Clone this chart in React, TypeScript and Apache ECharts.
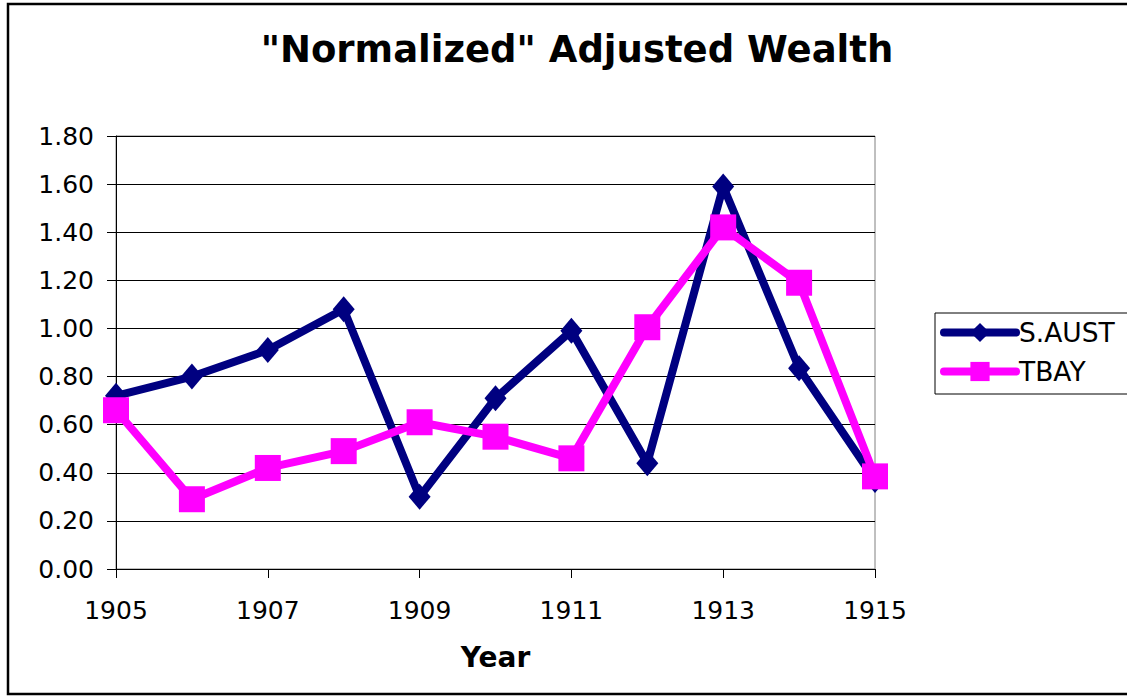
import React, { useEffect, useRef } from "react";
import * as echarts from "echarts";

const years = ["1905", "1906", "1907", "1908", "1909", "1910", "1911", "1912", "1913", "1914", "1915"];
const sAust = [0.72, 0.80, 0.91, 1.08, 0.30, 0.71, 0.99, 0.44, 1.59, 0.835, 0.37];
const tBay = [0.66, 0.29, 0.42, 0.49, 0.61, 0.55, 0.46, 1.005, 1.42, 1.19, 0.385];
const yTicks = { min: 0, max: 1.8, interval: 0.2 };

const FONT = "DejaVu Sans, Verdana, sans-serif";

export default function App() {
  const ref = useRef<HTMLDivElement>(null);
  useEffect(() => {
    document.body.style.margin = "0";
    const chart = echarts.init(ref.current!, null, { renderer: "svg" });
    chart.setOption({
      animation: false,
      backgroundColor: "#ffffff",
      textStyle: { fontFamily: FONT },
      title: {
        text: '"Normalized" Adjusted Wealth',
        left: 572,
        textAlign: "center",
        top: 26,
        textStyle: { fontFamily: FONT, fontSize: 37, fontWeight: "bold", color: "#000" },
      },
      graphic: [
        {
          type: "rect",
          shape: { x: 8, y: 4, width: 1130, height: 690 },
          style: { fill: "none", stroke: "#000", lineWidth: 2.5 },
          silent: true,
        },
      ],
      legend: {
        orient: "vertical",
        left: 935,
        top: 313,
        padding: [6, 13, 9, 5],
        itemGap: 12,
        itemWidth: 72,
        itemHeight: 24,
        borderColor: "#000",
        borderWidth: 1,
        lineStyle: { width: 8, cap: "round" },
        textStyle: { fontFamily: FONT, fontSize: 26.5, color: "#000", lineHeight: 26, padding: [0, 0, 0, -2] },
        data: ["S.AUST", "TBAY"],
      },
      grid: {
        left: 116,
        right: 252,
        top: 136,
        bottom: 127,
        show: true,
        borderColor: "#808080",
        borderWidth: 1,
        backgroundColor: "transparent",
      },
      xAxis: {
        type: "category",
        data: years,
        boundaryGap: false,
        name: "Year",
        nameLocation: "middle",
        nameGap: 74,
        nameTextStyle: { fontFamily: FONT, fontSize: 28, fontWeight: "bold", color: "#000" },
        axisLine: { lineStyle: { color: "#000", width: 1 } },
        axisTick: { show: true, interval: 1, length: 9, lineStyle: { color: "#000" } },
        axisLabel: { interval: 1, margin: 29, fontFamily: FONT, fontSize: 25, color: "#000" },
        splitLine: { show: false },
      },
      yAxis: {
        type: "value",
        min: yTicks.min,
        max: yTicks.max,
        interval: yTicks.interval,
        axisLine: { show: true, lineStyle: { color: "#000", width: 1 } },
        axisTick: { show: true, length: 9, lineStyle: { color: "#000" } },
        axisLabel: {
          margin: 22,
          fontFamily: FONT,
          fontSize: 25,
          color: "#000",
          formatter: (v: number) => v.toFixed(2),
        },
        splitLine: { show: true, lineStyle: { color: "#000", width: 1 } },
      },
      series: [
        {
          name: "S.AUST",
          type: "line",
          data: sAust,
          clip: false,
          color: "#000080",
          symbol: "diamond",
          symbolSize: [22, 26],
          lineStyle: { color: "#000080", width: 8 },
          itemStyle: { color: "#000080" },
        },
        {
          name: "TBAY",
          type: "line",
          data: tBay,
          clip: false,
          color: "#FF00FF",
          symbol: "rect",
          symbolSize: 26,
          lineStyle: { color: "#FF00FF", width: 8 },
          itemStyle: { color: "#FF00FF" },
        },
      ],
    });
    return () => chart.dispose();
  }, []);
  return <div ref={ref} style={{ position: "fixed", left: 0, top: 0, width: 1127, height: 696 }} />;
}
